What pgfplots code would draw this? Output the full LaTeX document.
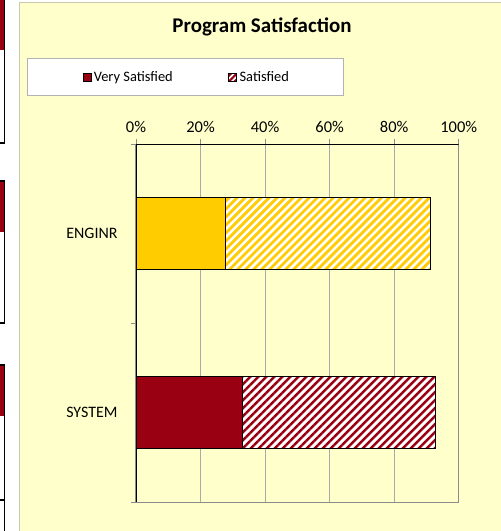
\documentclass[border=0pt]{standalone}
\usepackage{fontspec}
\setmainfont{Carlito}
\usepackage{pgfplots}
\pgfplotsset{compat=1.18}
\usetikzlibrary{patterns.meta}
\definecolor{bgyel}{HTML}{FFFFCC}
\definecolor{gold}{HTML}{FFCC00}
\definecolor{dred}{HTML}{990012}
\definecolor{gridgray}{HTML}{ABABAB}
\definecolor{axgray}{HTML}{8C8C8C}
\definecolor{framec}{HTML}{C8C8B0}
\begin{document}
\begin{tikzpicture}[x=1bp,y=1bp]
\useasboundingbox (0,0) rectangle (501,531);
\fill[white] (0,0) rectangle (501,531);
% fragments of the neighbouring table
\begin{scope}[line width=1.2bp]
\fill[dred] (-2,481) rectangle (4.5,533);
\draw[black] (-2,388) rectangle (4.5,533);
\fill[dred] (-2,299) rectangle (4.5,350);
\draw[black] (-2,208) rectangle (4.5,350);
\fill[dred] (-2,115) rectangle (4.5,166);
\draw[black] (-2,31) rectangle (4.5,166);
\draw[black] (-2,-2) rectangle (4.5,31);
\end{scope}
% chart area
\fill[bgyel] (19,-1) rectangle (502,528);
\draw[framec, line width=1bp] (19,-1) -- (19,528) -- (502,528);
% legend box
\draw[fill=white, draw=gray!60, line width=0.8bp] (27.5,435.5) rectangle (343.7,472.7);
\node[anchor=base, font=\bfseries\fontsize{21}{24}\selectfont, inner sep=0pt] at (262,498) {Program Satisfaction};
\begin{axis}[
  at={(136bp,28.7bp)}, anchor=south west,
  scale only axis, width=322.7bp, height=358bp,
  xmin=0, xmax=100, ymin=-0.5, ymax=1.5, y dir=reverse,
  xbar stacked, bar width=72bp,
  xtick={0,20,40,60,80,100},
  xtick pos=right, xticklabel pos=right,
  ytick pos=left, yticklabel pos=left,
  xticklabel={\pgfmathprintnumber[assume math mode=true]{\tick}\%},
  xticklabel style={font=\fontsize{16.5}{18}\selectfont, yshift=3bp},
  tick align=outside, major tick length=5bp,
  every tick/.style={axgray, line width=0.8bp},
  xmajorgrids, grid style={gridgray, line width=0.8bp},
  ytick={-0.5,0.5,1.5}, yticklabels={},
  extra y ticks={0,1}, extra y tick labels={ENGINR,SYSTEM},
  extra y tick style={grid=none, major tick length=0pt,
    yticklabel style={font=\fontsize{16}{18}\selectfont, xshift=-15bp}},
  axis line style={axgray, line width=1.2bp},
  legend style={draw=none, fill=none, at={(-0.1664,1.1874)}, anchor=west,
    legend columns=2, inner sep=0pt,
    font=\fontsize{14.5}{16}\selectfont,
    nodes={inner xsep=2.5bp, inner ysep=0bp},
    /tikz/every even column/.append style={column sep=53bp}},
  legend image code/.code={\draw[#1, line width=0.8bp] (0bp,-4bp) rectangle (8bp,4bp);},
]
\addlegendimage{fill=dred, draw=black}
\addlegendimage{draw=black, preaction={fill=white}, pattern={Lines[angle=45,distance=4bp,line width=2bp]}, pattern color=dred}
\addplot[fill=gold, draw=black, line width=1.2bp] coordinates {(27.7,0) (0,1)};
\addplot[fill=dred, draw=black, line width=1.2bp] coordinates {(0,0) (32.9,1)};
\addplot[draw=black, line width=1.2bp, preaction={fill=white}, pattern={Lines[angle=45,distance=5.66bp,line width=2.8bp]}, pattern color=gold] coordinates {(63.5,0) (0,1)};
\addplot[draw=black, line width=1.2bp, preaction={fill=white}, pattern={Lines[angle=45,distance=5.66bp,line width=2.5bp]}, pattern color=dred] coordinates {(0,0) (59.9,1)};
\legend{Very Satisfied, Satisfied}
\draw[black, line width=1.2bp] (axis description cs:0,0) -- (axis description cs:0,1) -- (axis description cs:1,1);
\end{axis}
\end{tikzpicture}
\end{document}
